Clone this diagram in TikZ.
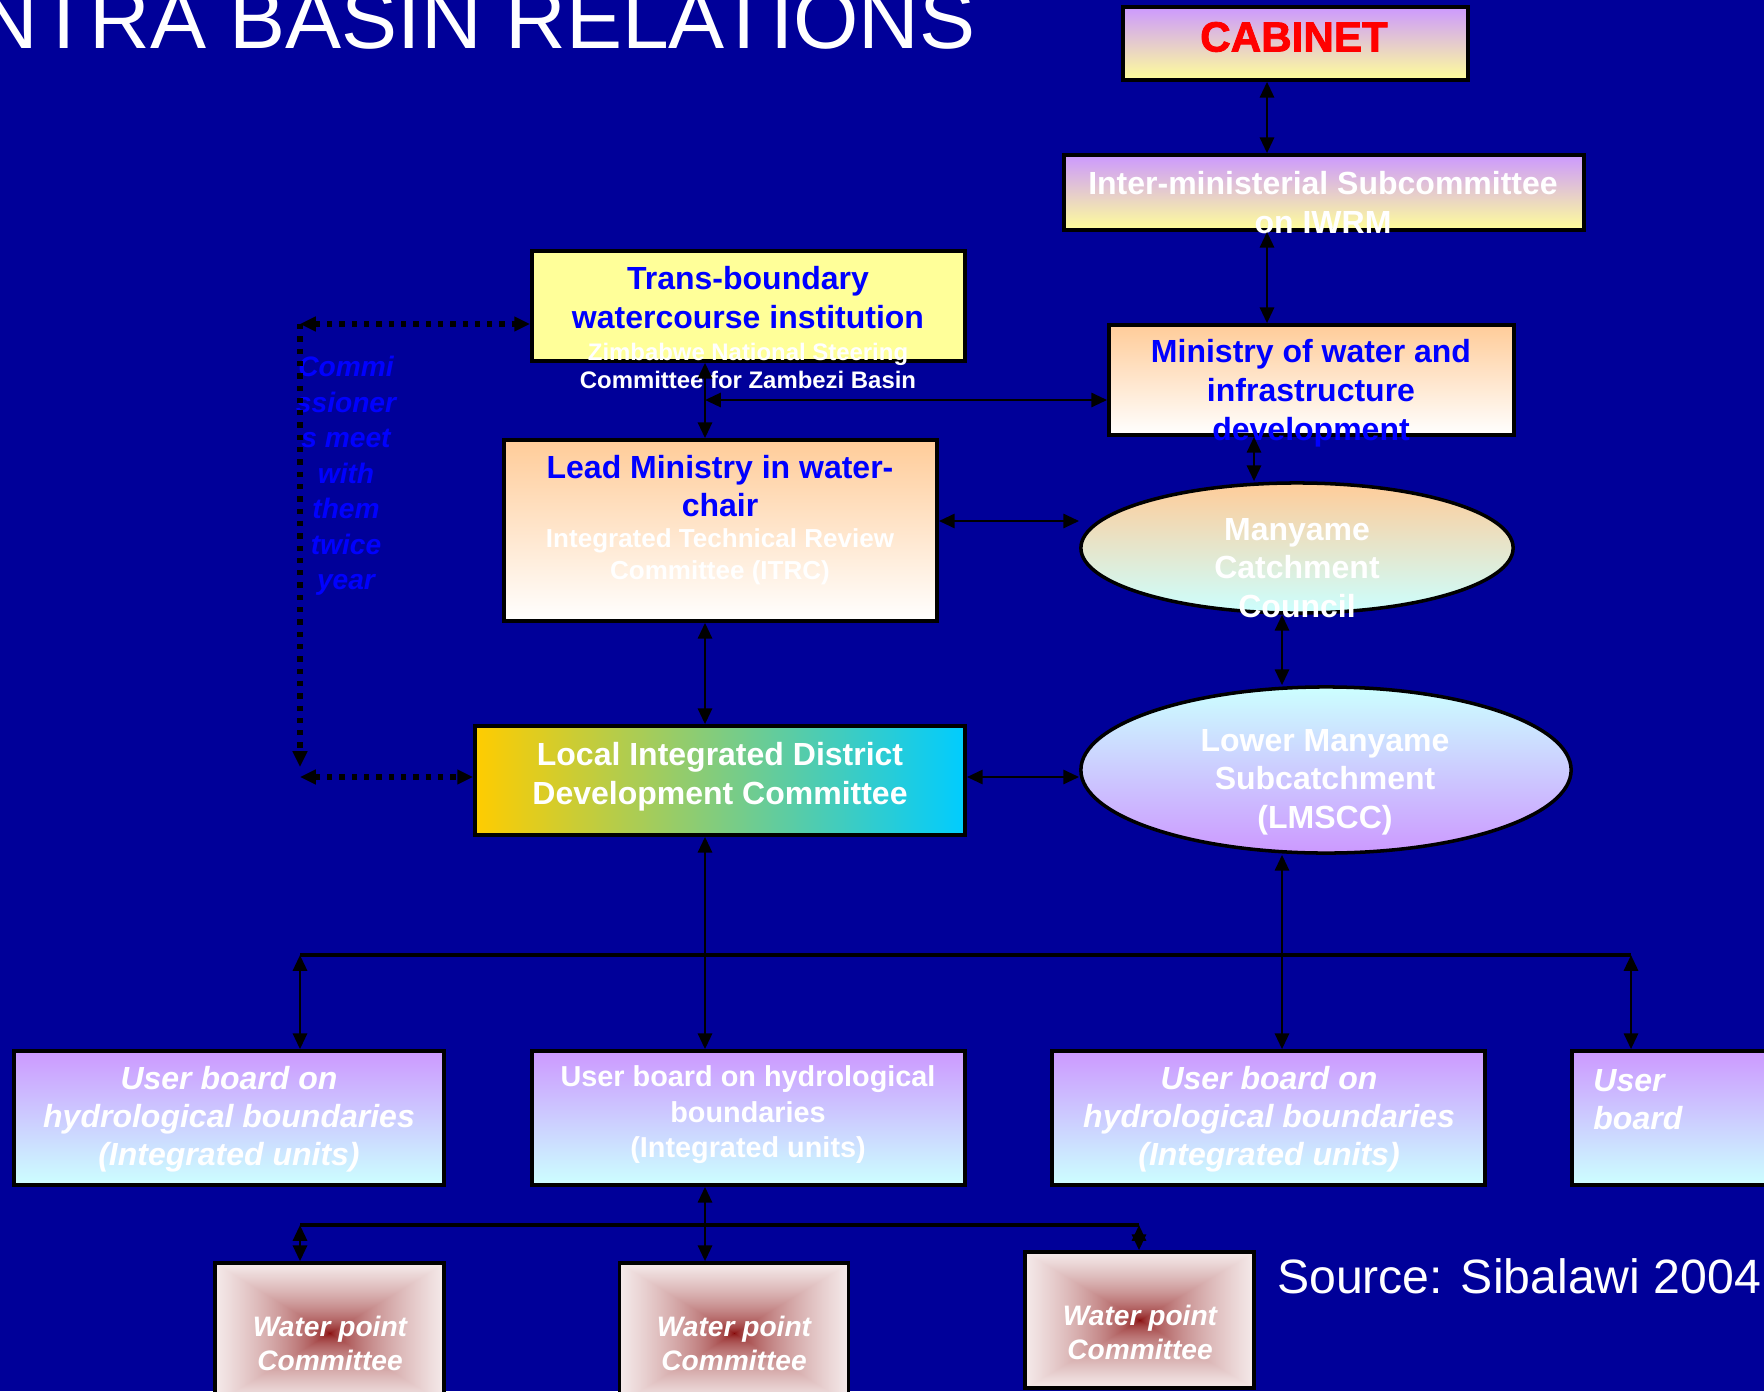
\documentclass[tikz,border=0pt]{standalone}
\usepackage{fontspec}
\setmainfont{Liberation Sans}
\newfontfamily\heavyfont[BoldFeatures={FakeBold=2}]{Liberation Sans}
\usepackage{tikz}
\usetikzlibrary{calc}
\usetikzlibrary{shapes,arrows}
\usetikzlibrary{arrows.meta}
\definecolor{slideblue}{RGB}{0,0,153}
\definecolor{lilac}{RGB}{204,153,255}
\definecolor{lemon}{RGB}{255,255,153}
\definecolor{peach}{RGB}{255,204,153}
\definecolor{icecyan}{RGB}{204,255,255}
\definecolor{amber}{RGB}{255,204,0}
\definecolor{sand}{RGB}{200,200,165}
\definecolor{skycyan}{RGB}{0,204,255}
\definecolor{textblue}{RGB}{0,0,255}
\pgfdeclarefunctionalshading{wpfade}{\pgfpoint{-50bp}{-50bp}}{\pgfpoint{50bp}{50bp}}{}{
  abs exch abs 2 copy lt {exch} if pop
  25 div dup 1 gt {pop 1} if sqrt
  dup 0.45 mul 0.51 add exch dup 0.92 mul 0.0 add exch 0.92 mul 0.0 add
}
\tikzset{%
  block/.style    = {draw, line width=1pt, rectangle, inner sep=0pt},
  oval/.style     = {draw, line width=1pt, ellipse, inner sep=0pt},
  purpleyellow/.style = {top color=lilac, bottom color=lemon},
  peachwhite/.style   = {top color=peach, bottom color=white},
  userbox/.style  = {block, top color=lilac, bottom color=icecyan,
    minimum width=4.33cm, minimum height=1.34cm},
  wpbox/.style    = {block, shade, shading=wpfade, minimum width=2.29cm,
    minimum height=1.4cm},
  bigtxt/.style   = {align=center, inner sep=0pt,
    font=\bfseries\fontsize{9.1}{11.1}\selectfont},
  ubitxt/.style   = {align=center, inner sep=0pt, text=white,
    font=\bfseries\itshape\fontsize{9.1}{10.8}\selectfont},
  wptxt/.style    = {align=center, inner sep=0pt, text=white,
    font=\bfseries\itshape\fontsize{8}{9.7}\selectfont},
  dots/.style     = {dotted, line width=1.5pt},
  bus/.style      = {line width=1.3pt}
}
\begin{document}
\begin{tikzpicture}[thick, >={Triangle[length=4.5pt, width=4pt]}, x=0.01cm, y=-0.01cm]
        \fill[slideblue] (0,0) rectangle (1764,1391);
        \useasboundingbox (0,0) rectangle (1764,1391);
        % boxes
        \draw
        node at(1295.5,43.5)[block, purpleyellow, minimum width=3.45cm, minimum height=0.73cm, name=Cabinet]{}
        node at(1324,192.5)[block, purpleyellow, minimum width=5.2cm, minimum height=0.75cm, name=InterMin]{}
        node at(1311.5,380)[block, peachwhite, minimum width=4.05cm, minimum height=1.1cm, name=MinWater]{}
        node at(748.5,306)[block, fill=lemon, minimum width=4.33cm, minimum height=1.1cm, name=TransBound]{}
        node at(720.5,530.5)[block, peachwhite, minimum width=4.33cm, minimum height=1.81cm, name=LeadMin]{}
        node at(1297,548)[oval, top color=peach, bottom color=icecyan, minimum width=4.32cm, minimum height=1.3cm, name=Manyame]{}
        node at(1326,770)[oval, top color=icecyan, bottom color=lilac, minimum width=4.9cm, minimum height=1.66cm, name=LowerMany]{}
        node at(720,780.5)[block, left color=amber, middle color=sand, right color=skycyan, minimum width=4.9cm, minimum height=1.09cm, name=LocalDist]{};
        \draw
        node at(229,1118)[userbox, minimum width=4.3cm, name=UserBoard1]{}
        node at(748.5,1118)[userbox, name=UserBoard2]{}
        node at(1268.5,1118)[userbox, name=UserBoard3]{}
        node at(1788.5,1118)[userbox, name=UserBoard4]{}
        node at(329.5,1333)[wpbox, name=WaterPoint1]{}
        node at(734,1333)[wpbox, name=WaterPoint2]{}
        node at(1139.5,1320)[wpbox, minimum height=1.36cm, name=WaterPoint3]{};
        % texts
        \node[anchor=base east, inner sep=0pt, text=white, font=\fontsize{23.9}{28}\selectfont] (Title) at (977,49) {NTRA BASIN RELATIONS};
        \node[inner sep=0pt, text=red, font=\heavyfont\bfseries\fontsize{12}{14}\selectfont] (CabinetText) at (1294,37) {CABINET};
        \node[bigtxt, text=white] (InterMinText) at (1323,202.5) {Inter-ministerial Subcommittee\\on IWRM};
        \node[bigtxt, text=textblue] (MinWaterText) at (1311,393) {Ministry of water and\\infrastructure\\development};
        \node[bigtxt, text=textblue] (TransBoundText) at (748,298) {Trans-boundary\\watercourse institution};
        \node[align=center, inner sep=0pt, text=white, font=\bfseries\fontsize{6.8}{8}\selectfont] (SteeringText) at (748,366) {Zimbabwe National Steering\\Committee for Zambezi Basin};
        \node[bigtxt, text=textblue, font=\bfseries\fontsize{9.1}{10.8}\selectfont] (LeadMinText) at (720,486) {Lead Ministry in water-\\chair};
        \node[align=center, inner sep=0pt, text=white, font=\bfseries\fontsize{7.4}{9.1}\selectfont] (ItrcText) at (720,557) {Integrated Technical Review\\Committee (ITRC)};
        \node[bigtxt, text=white, font=\bfseries\fontsize{9.1}{10.9}\selectfont] (ManyameText) at (1297,568) {Manyame\\Catchment\\Council};
        \node[bigtxt, text=white, font=\bfseries\fontsize{9.1}{10.9}\selectfont] (LowerManyText) at (1325,782) {Lower Manyame\\Subcatchment\\(LMSCC)};
        \node[bigtxt, text=white] (LocalDistText) at (720,777) {Local Integrated District\\Development Committee};
        \node[align=center, inner sep=0pt, text=textblue, font=\bfseries\itshape\fontsize{8}{10.1}\selectfont] (CommText) at (346,476) {Commi\\ssioner\\s meet\\with\\them\\twice\\year};
        \node[ubitxt] (UserBoard1Text) at (229,1119) {User board on\\hydrological boundaries\\(Integrated units)};
        \node[align=center, inner sep=0pt, text=white, font=\bfseries\fontsize{8.2}{10.1}\selectfont] (UserBoard2Text) at (748,1115) {User board on hydrological\\boundaries\\(Integrated units)};
        \node[ubitxt] (UserBoard3Text) at (1269,1119) {User board on\\hydrological boundaries\\(Integrated units)};
        \node[ubitxt, align=left, anchor=west] (UserBoard4Text) at (1592,1100) {User\\board};
        \node[wptxt] (WaterPoint1Text) at (330,1343) {Water point\\Committee};
        \node[wptxt] (WaterPoint2Text) at (734,1343) {Water point\\Committee};
        \node[wptxt] (WaterPoint3Text) at (1140,1332) {Water point\\Committee};
        \node[inner sep=0pt, text=white, font=\fontsize{13.7}{16}\selectfont] (SourceText) at (1519,1276) {Source: Sibalawi 2004};
        % connectors
        \coordinate (TLjoin) at (705,400);
        \coordinate (DotTop) at (300,324);
        \coordinate (DotBot) at (300,767);
        \coordinate (DotLow) at (300,777);
        \coordinate (BusL) at (300,955);
        \coordinate (BusR) at (1631,955);
        \coordinate (BusL2) at (300,1225);
        \coordinate (BusR2) at (1139,1225);
        \draw[<->] (Cabinet.south -| 1267,0) -- (InterMin.north -| 1267,0);
        \draw[<->] (InterMin.south -| 1267,0) -- (MinWater.north -| 1267,0);
        \draw[<->] (TransBound.south -| TLjoin) -- (LeadMin.north -| TLjoin);
        \draw[<->] (TLjoin) -- (MinWater.west |- TLjoin);
        \draw[<->] (LeadMin.east |- 0,521) -- (Manyame.west |- 0,521);
        \draw[<->] (MinWater.south -| 1254,0) -- (Manyame.north -| 1254,0);
        \draw[<->] (Manyame.south -| 1282,0) -- (LowerMany.north -| 1282,0);
        \draw[<->] (LeadMin.south -| TLjoin) -- (LocalDist.north -| TLjoin);
        \draw[<->] (LocalDist.east |- DotLow) -- (LowerMany.west |- DotLow);
        \draw[<->, dots] (DotTop) -- (TransBound.west |- DotTop);
        \draw[->, dots] (DotTop) -- (DotBot);
        \draw[<->, dots] (DotLow) -- (LocalDist.west |- DotLow);
        \draw[bus] (BusL) -- (BusR);
        \draw[<->] (LocalDist.south -| TLjoin) -- (UserBoard2.north -| TLjoin);
        \draw[<->] (BusL) -- (UserBoard1.north -| BusL);
        \draw[<->] (LowerMany.south -| 1282,0) -- (UserBoard3.north -| 1282,0);
        \draw[<->] (BusR) -- (UserBoard4.north -| BusR);
        \draw[bus] (BusL2) -- (BusR2);
        \draw[<->] (UserBoard2.south -| TLjoin) -- (WaterPoint2.north -| TLjoin);
        \draw[<->] (BusL2) -- (WaterPoint1.north -| BusL2);
        \draw[<->] (BusR2) -- (WaterPoint3.north -| BusR2);
\end{tikzpicture}
\end{document}
